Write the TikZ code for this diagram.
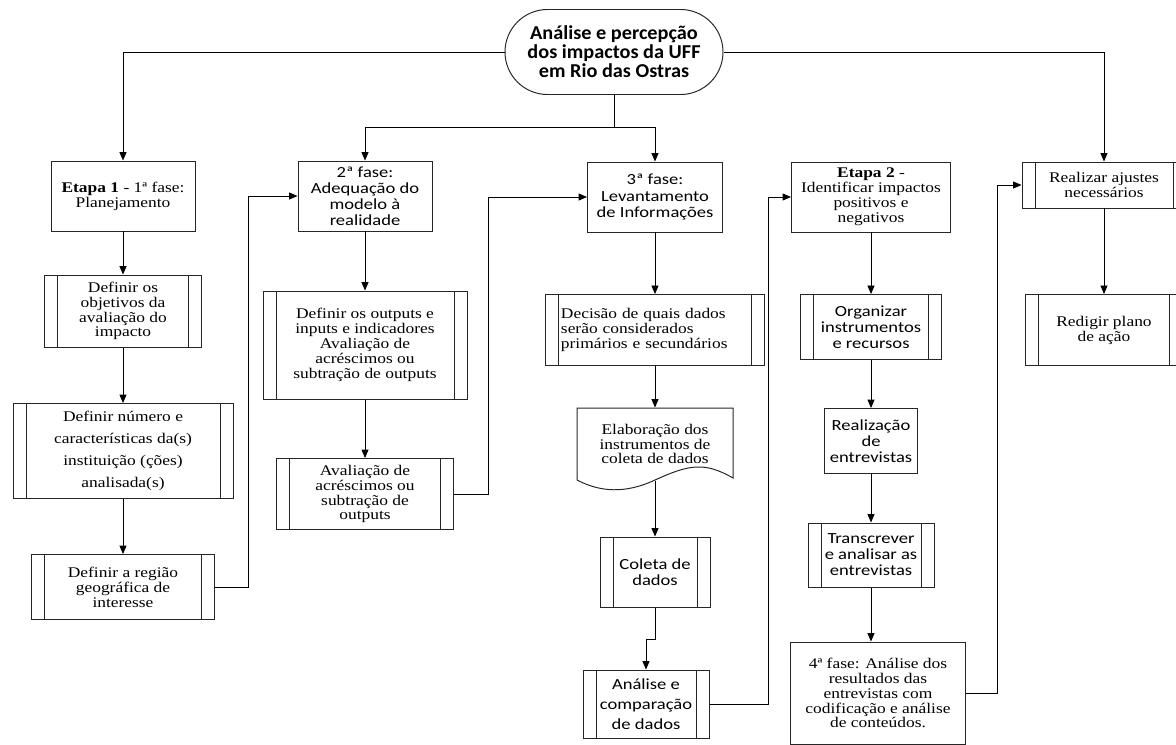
\documentclass[tikz,border=0pt]{standalone}
\usepackage{fontspec}
\setmainfont{Liberation Serif}[FakeStretch=1.18]
\newfontfamily\calibri{Carlito}[FakeStretch=1.2]
\newfontfamily\calibrititle{Carlito}[FakeStretch=1.03]
\usetikzlibrary{arrows.meta, shapes.misc}

\begin{document}
\begin{tikzpicture}[x=0.025cm, y=-0.025cm]
	\tikzset{
		box/.style={draw=black!85, line width=0.7pt, rectangle, inner sep=1pt, align=center, font=\fontsize{10.5}{10.6}\selectfont},
		sans/.style={font=\calibri\fontsize{11}{11.4}\selectfont},
		sz/.style 2 args={minimum width=#1*0.025cm, minimum height=#2*0.025cm},
		proc/.style={box, path picture={
				\draw[line width=0.7pt, black!85] ([xshift=0.325cm]path picture bounding box.north west) -- ([xshift=0.325cm]path picture bounding box.south west);
				\draw[line width=0.7pt, black!85] ([xshift=-0.325cm]path picture bounding box.north east) -- ([xshift=-0.325cm]path picture bounding box.south east);}},
		arr/.style={-{Triangle[length=6pt,width=5pt]}, line width=0.6pt},
	}
	\useasboundingbox (0,0) rectangle (1176,744);
	\clip (0,0) rectangle (1176,744);
	
	\node[draw=black!85, line width=0.7pt, rounded rectangle, sz={218}{85}, inner sep=0pt, align=center,
		font=\calibrititle\fontsize{14}{13.6}\selectfont\bfseries] (title) at (614,52)
		{Análise e percepção\\dos impactos da UFF\\em Rio das Ostras};
	
	% Etapa 1
	\node[box, sz={144}{70}] (etapa1) at (123,196) {\textbf{Etapa 1} - 1ª fase:\\Planejamento};
	\node[proc, sz={157}{72}] (obj) at (123,311) {Definir os\\objetivos da\\avaliação do\\impacto};
	\node[proc, sz={220}{95}, font=\fontsize{10.5}{15.6}\selectfont] (num) at (123,451)
		{Definir número e\\características da(s)\\instituição (ções)\\analisada(s)};
	\node[proc, sz={183}{65}] (regiao) at (123,587) {Definir a região\\geográfica de\\interesse};
	
	% 2a fase
	\node[box, sans, sz={134}{70}] (fase2) at (365,196) {2ª fase:\\Adequação do\\modelo à\\realidade};
	\node[proc, sz={204}{108}] (outputs) at (365,345)
		{Definir os outputs e\\inputs e indicadores\\Avaliação de\\acréscimos ou\\subtração de outputs};
	\node[proc, sz={177}{71}] (aval) at (365,494) {Avaliação de\\acréscimos ou\\subtração de\\outputs};
	
	% 3a fase
	\node[box, sans, sz={135}{70}] (fase3) at (655,197) {3ª fase:\\Levantamento\\de Informações};
	\node[proc, sz={219}{71}, text width=4.7cm, align=left] (decisao) at (655,330)
		{\makebox[4.7cm][s]{Decisão de quais dados}\\\makebox[4.7cm][s]{serão considerados}\\primários e secundários};
	\node[box, draw=none, sz={156}{72}] (elab) at (655,444) {Elaboração dos\\instrumentos de\\coleta de dados};
	\draw[draw=black!85, line width=0.7pt] (577,480) -- (577,408) -- (733,408) -- (733,478)
		.. controls (705,462) and (690,464) .. (655,480) .. controls (625,494) and (600,492) .. (577,480);
	\node[proc, sans, sz={110}{70}] (coleta) at (655,572) {Coleta de\\dados};
	\node[proc, sans, sz={126}{68}, font=\calibri\fontsize{11}{14}\selectfont] (analise) at (646,704)
		{Análise e\\comparação\\de dados};
	
	% Etapa 2
	\node[box, sz={159}{70}] (etapa2) at (871,197) {\textbf{Etapa 2} -\\Identificar impactos\\positivos e\\negativos};
	\node[proc, sans, sz={141}{65}] (org) at (871,327) {Organizar\\instrumentos\\e recursos};
	\node[box, sans, sz={93}{65}] (real) at (871,441) {Realização\\de\\entrevistas};
	\node[proc, sans, sz={126}{64}] (transc) at (871,555) {Transcrever\\e analisar as\\entrevistas};
	\node[box, sz={175}{102}] (quarta) at (878,693)
		{4ª fase: Análise dos\\resultados das\\entrevistas com\\codificação e análise\\de conteúdos.};
	
	\node[proc, sz={164}{46}] (ajustes) at (1104,185) {Realizar ajustes\\necessários};
	\node[proc, sz={157}{71}] (redigir) at (1104,330) {Redigir plano\\de ação};
	
	% ligacoes
	\draw[arr] (title.west) -| (etapa1.north);
	\draw[arr] (title.east) -| (ajustes.north);
	\draw[line width=0.6pt] (title.south) -- ++(0,32) coordinate (split);
	\draw[arr] (split) -| (fase2.north);
	\draw[arr] (split) -| (fase3.north);
	
	\draw[arr] (etapa1.south) -- (obj.north);
	\draw[arr] (obj.south) -- (num.north);
	\draw[arr] (num.south) -- (regiao.north);
	\draw[arr] (regiao.east) -- ++(33,0) |- (fase2.west);
	
	\draw[arr] (fase2.south) -- (outputs.north);
	\draw[arr] (outputs.south) -- (aval.north);
	\draw[arr] (aval.east) -- ++(34,0) |- (fase3.west);
	
	\draw[arr] (fase3.south) -- (decisao.north);
	\draw[arr] (decisao.south) -- (elab.north);
	\draw[arr] (elab.south) -- (coleta.north);
	\draw[arr] (coleta.south) -- ++(0,32) -| (analise.north);
	\draw[arr] (analise.east) -- ++(59,0) |- (etapa2.west);
	
	\draw[arr] (etapa2.south) -- (org.north);
	\draw[arr] (org.south) -- (real.north);
	\draw[arr] (real.south) -- (transc.north);
	\draw[arr] (transc.south) -- (transc.south |- quarta.north);
	\draw[arr] (quarta.east) -- ++(31,0) |- (ajustes.west);
	
	\draw[arr] (ajustes.south) -- (redigir.north);
\end{tikzpicture}
\end{document}
